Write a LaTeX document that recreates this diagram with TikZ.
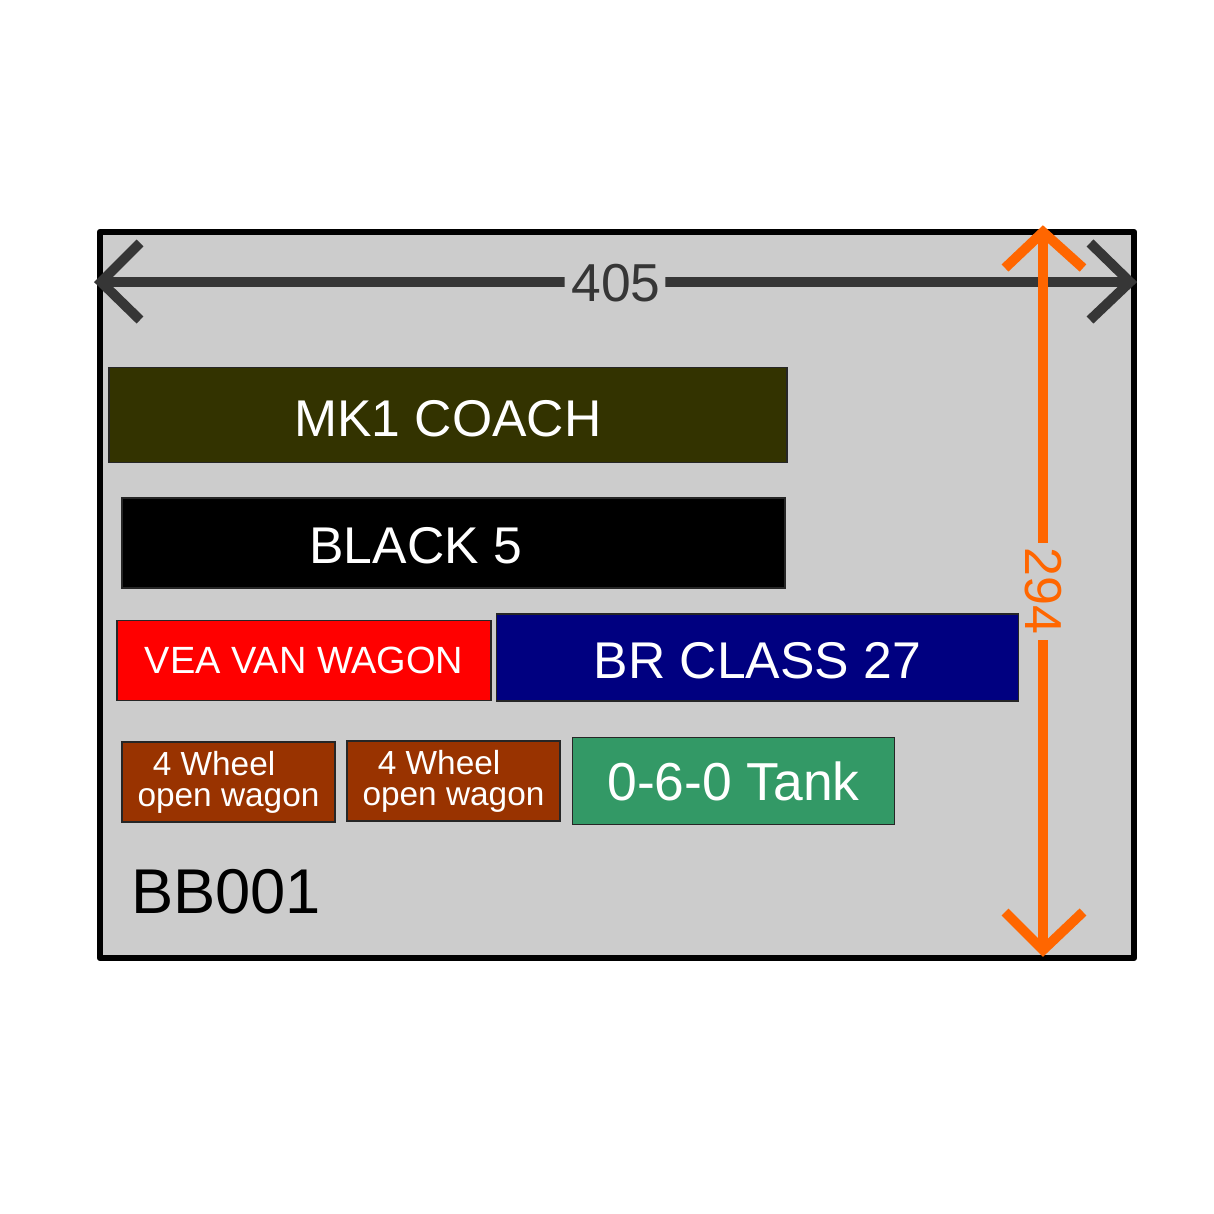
\documentclass[tikz,border=0pt]{standalone}
\usepackage{fontspec}
\setmainfont{Liberation Sans}
\usetikzlibrary{arrows, positioning, calc}

% 1214 px mapped to 121.4 mm
\definecolor{boardgrey}{HTML}{CCCCCC}
\definecolor{dimgrey}{HTML}{363636}
\definecolor{dimorange}{HTML}{FF6600}
\definecolor{coachgreen}{HTML}{333300}
\definecolor{vanred}{HTML}{FF0000}
\definecolor{classblue}{HTML}{000080}
\definecolor{wagonbrown}{HTML}{993300}
\definecolor{tankgreen}{HTML}{339966}

\tikzset{
  stock/.style={draw=black!85, line width=0.55pt, inner sep=0pt, minimum height=#1, text=white, align=center},
  greydim/.style={draw=dimgrey, line width=2.8pt},
  orangedim/.style={draw=dimorange, line width=2.8pt},
}

\begin{document}
\begin{tikzpicture}[x=1mm,y=-1mm]

\useasboundingbox (0,0) rectangle (121.4,121.4);

\node[draw=black, line width=1.8pt, fill=boardgrey, line join=round, minimum width=103.4mm, minimum height=72.6mm, inner sep=0pt] (board) at (61.7,59.5) {};

% vehicles
\node[stock=9.5mm, fill=coachgreen, minimum width=67.8mm, text height=12.3pt, font=\fontsize{14.7pt}{15pt}\selectfont] (coach) at (44.8,41.5) {MK1 COACH};
\node[stock=9mm, fill=black, minimum width=66.3mm, text height=11.7pt, font=\fontsize{14.7pt}{15pt}\selectfont] (black5) at (45.35,54.3) {BLACK 5\rule{21.5pt}{0pt}};
\node[stock=8mm, fill=vanred, minimum width=37.4mm, font=\fontsize{10.8pt}{11pt}\selectfont] (van) at (30.4,66.05) {VEA VAN WAGON};
\node[stock=8.7mm, fill=classblue, minimum width=52.2mm, text height=12.3pt, font=\fontsize{14.7pt}{15pt}\selectfont] (class27) at (75.75,65.75) {BR CLASS 27};
\node[stock=8mm, fill=wagonbrown, minimum width=21.3mm, font=\fontsize{9.5pt}{8.8pt}\selectfont] (wagona) at (22.85,78.2) {4 Wheel\rule{8.2pt}{0pt}\\open wagon};
\node[stock=8mm, fill=wagonbrown, minimum width=21.3mm, font=\fontsize{9.5pt}{8.8pt}\selectfont] (wagonb) at (45.35,78.1) {4 Wheel\rule{8.2pt}{0pt}\\open wagon};
\node[stock=8.7mm, fill=tankgreen, minimum width=32.2mm, font=\fontsize{15.2pt}{15pt}\selectfont] (tank) at (73.35,78.1) {0-6-0 Tank};
\node[font=\fontsize{18pt}{19pt}\selectfont, text=black, inner sep=0pt] (code) at (22.6,89.2) {BB001};

% width dimension
\node[font=\fontsize{15.2pt}{15pt}\selectfont, text=dimgrey, inner sep=0pt] (widthtext) at (61.6,28.3) {405};
\coordinate (wl) at (10.1,28.2);
\coordinate (wr) at (113,28.2);
\draw[greydim] (wl) -- ($(widthtext.west)+(-0.6,-0.1)$);
\draw[greydim] ($(widthtext.east)+(0.4,-0.1)$) -- (wr);
\draw[greydim, line join=miter] (14,24.3) -- (wl) -- (14,32);
\draw[greydim, line join=miter] (109,24.3) -- (wr) -- (109,32);

% height dimension
\node[font=\fontsize{14.8pt}{15pt}\selectfont, text=dimorange, rotate=-90, inner sep=0pt] (heighttext) at (104.3,59.1) {294};
\coordinate (ht) at (104.3,23.2);
\coordinate (hb) at (104.3,95);
\draw[orangedim] (ht) -- (heighttext.west |- 0,54.3);
\draw[orangedim] (heighttext.east |- 0,64) -- (hb);
\draw[orangedim, line join=miter] (100.5,26.8) -- (ht) -- (108.3,26.8);
\draw[orangedim, line join=miter] (100.5,91.2) -- (hb) -- (108.3,91.2);

\end{tikzpicture}
\end{document}
